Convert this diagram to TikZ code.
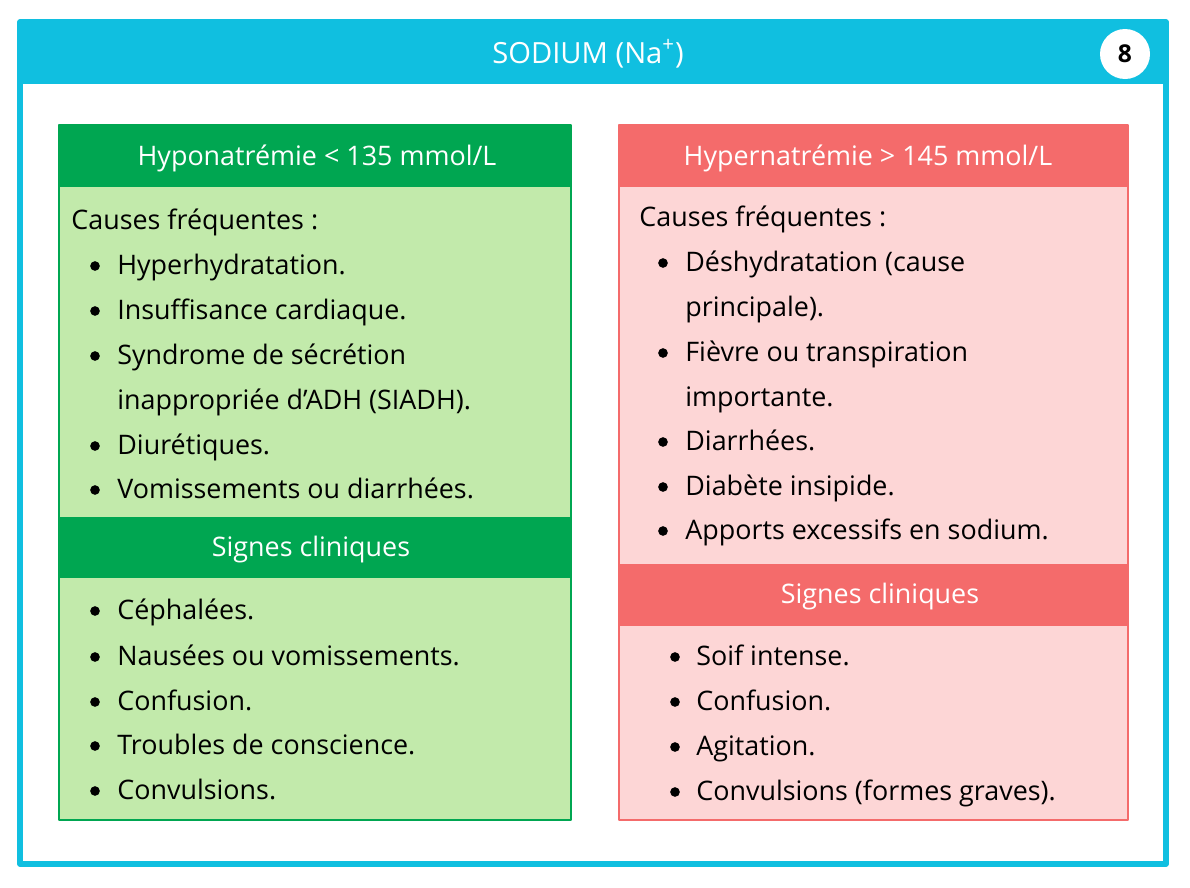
\documentclass[tikz,border=0pt]{standalone}
\usepackage{fontspec}
\setmainfont{Open Sans}
\definecolor{cyanbar}{HTML}{10BFE0}
\definecolor{hypogreen}{HTML}{00A651}
\definecolor{hypofill}{HTML}{C2EAAB}
\definecolor{hyperred}{HTML}{F46B6B}
\definecolor{hyperfill}{HTML}{FDD6D6}
\tikzset{
  txt/.style={anchor=base west, inner sep=0pt, font=\fontsize{15.3}{18}\selectfont},
  head/.style={text=white, anchor=base, inner sep=0pt, font=\fontsize{15.3}{18}\selectfont},
  dot/.style={circle, fill=black, inner sep=0pt, minimum size=5.5pt},
}
\begin{document}
\begin{tikzpicture}[x=0.02cm, y=-0.02cm, line join=round]
  \useasboundingbox (0,0) rectangle (1190,887);

  % frame and title bar
  \fill[cyanbar] (20,22) rectangle (1166,84);
  \draw[cyanbar, line width=3pt] (20,22) rectangle (1166,864);
  \node[head, font=\fontsize{16.6}{18}\selectfont] (title) at (588,63) {SODIUM (Na\textsuperscript{+})};
  \node[circle, fill=white, minimum size=1cm, inner sep=0pt, font=\bfseries\fontsize{14}{16}\selectfont] (num) at (1125,54) {8};

  % hyponatremia
  \fill[hypofill] (59,125) rectangle (571,820);
  \fill[hypogreen] (59,125) rectangle (571,187);
  \fill[hypogreen] (59,517) rectangle (571,578);
  \draw[hypogreen, line width=1.2pt] (59,125) rectangle (571,820);
  \node[head] (hypo) at (317,165) {Hyponatrémie < 135 mmol/L};
  \node[head] (hyposig) at (311,556) {Signes cliniques};
  \node[txt] (hypocause) at (71,229) {Causes fréquentes :};
  \foreach \y/\t in {266/Hyperhydratation., 311/Insuffisance cardiaque., 356/Syndrome de sécrétion, 446/Diurétiques., 490/Vomissements ou diarrhées.,
                     611/Céphalées., 657/Nausées ou vomissements., 702/Confusion., 746/Troubles de conscience., 791/Convulsions.}{
    \node[dot] at (95,\y) {};
    \node[txt] at (117,\y+8) {\t};
  }
  \node[txt] (siadh) at (117,409) {inappropriée d’ADH (SIADH).};

  % hypernatremia
  \fill[hyperfill] (619,125) rectangle (1128,820);
  \fill[hyperred] (619,125) rectangle (1128,187);
  \fill[hyperred] (619,564) rectangle (1128,626);
  \draw[hyperred, line width=1.2pt] (619,125) rectangle (1128,820);
  \node[head] (hyper) at (868,165) {Hypernatrémie > 145 mmol/L};
  \node[head] (hypersig) at (880,603) {Signes cliniques};
  \node[txt] (hypercause) at (639,226) {Causes fréquentes :};
  \foreach \y/\t in {263/Déshydratation (cause, 353/Fièvre ou transpiration, 442/Diarrhées., 487/Diabète insipide., 531/Apports excessifs en sodium.}{
    \node[dot] at (663,\y) {};
    \node[txt] at (685,\y+8) {\t};
  }
  \node[txt] (princ) at (685,316) {principale).};
  \node[txt] (impor) at (685,406) {importante.};
  \foreach \y/\t in {657/Soif intense., 702/Confusion., 747/Agitation., 792/Convulsions (formes graves).}{
    \node[dot] at (675,\y) {};
    \node[txt] at (696,\y+8) {\t};
  }
\end{tikzpicture}
\end{document}
